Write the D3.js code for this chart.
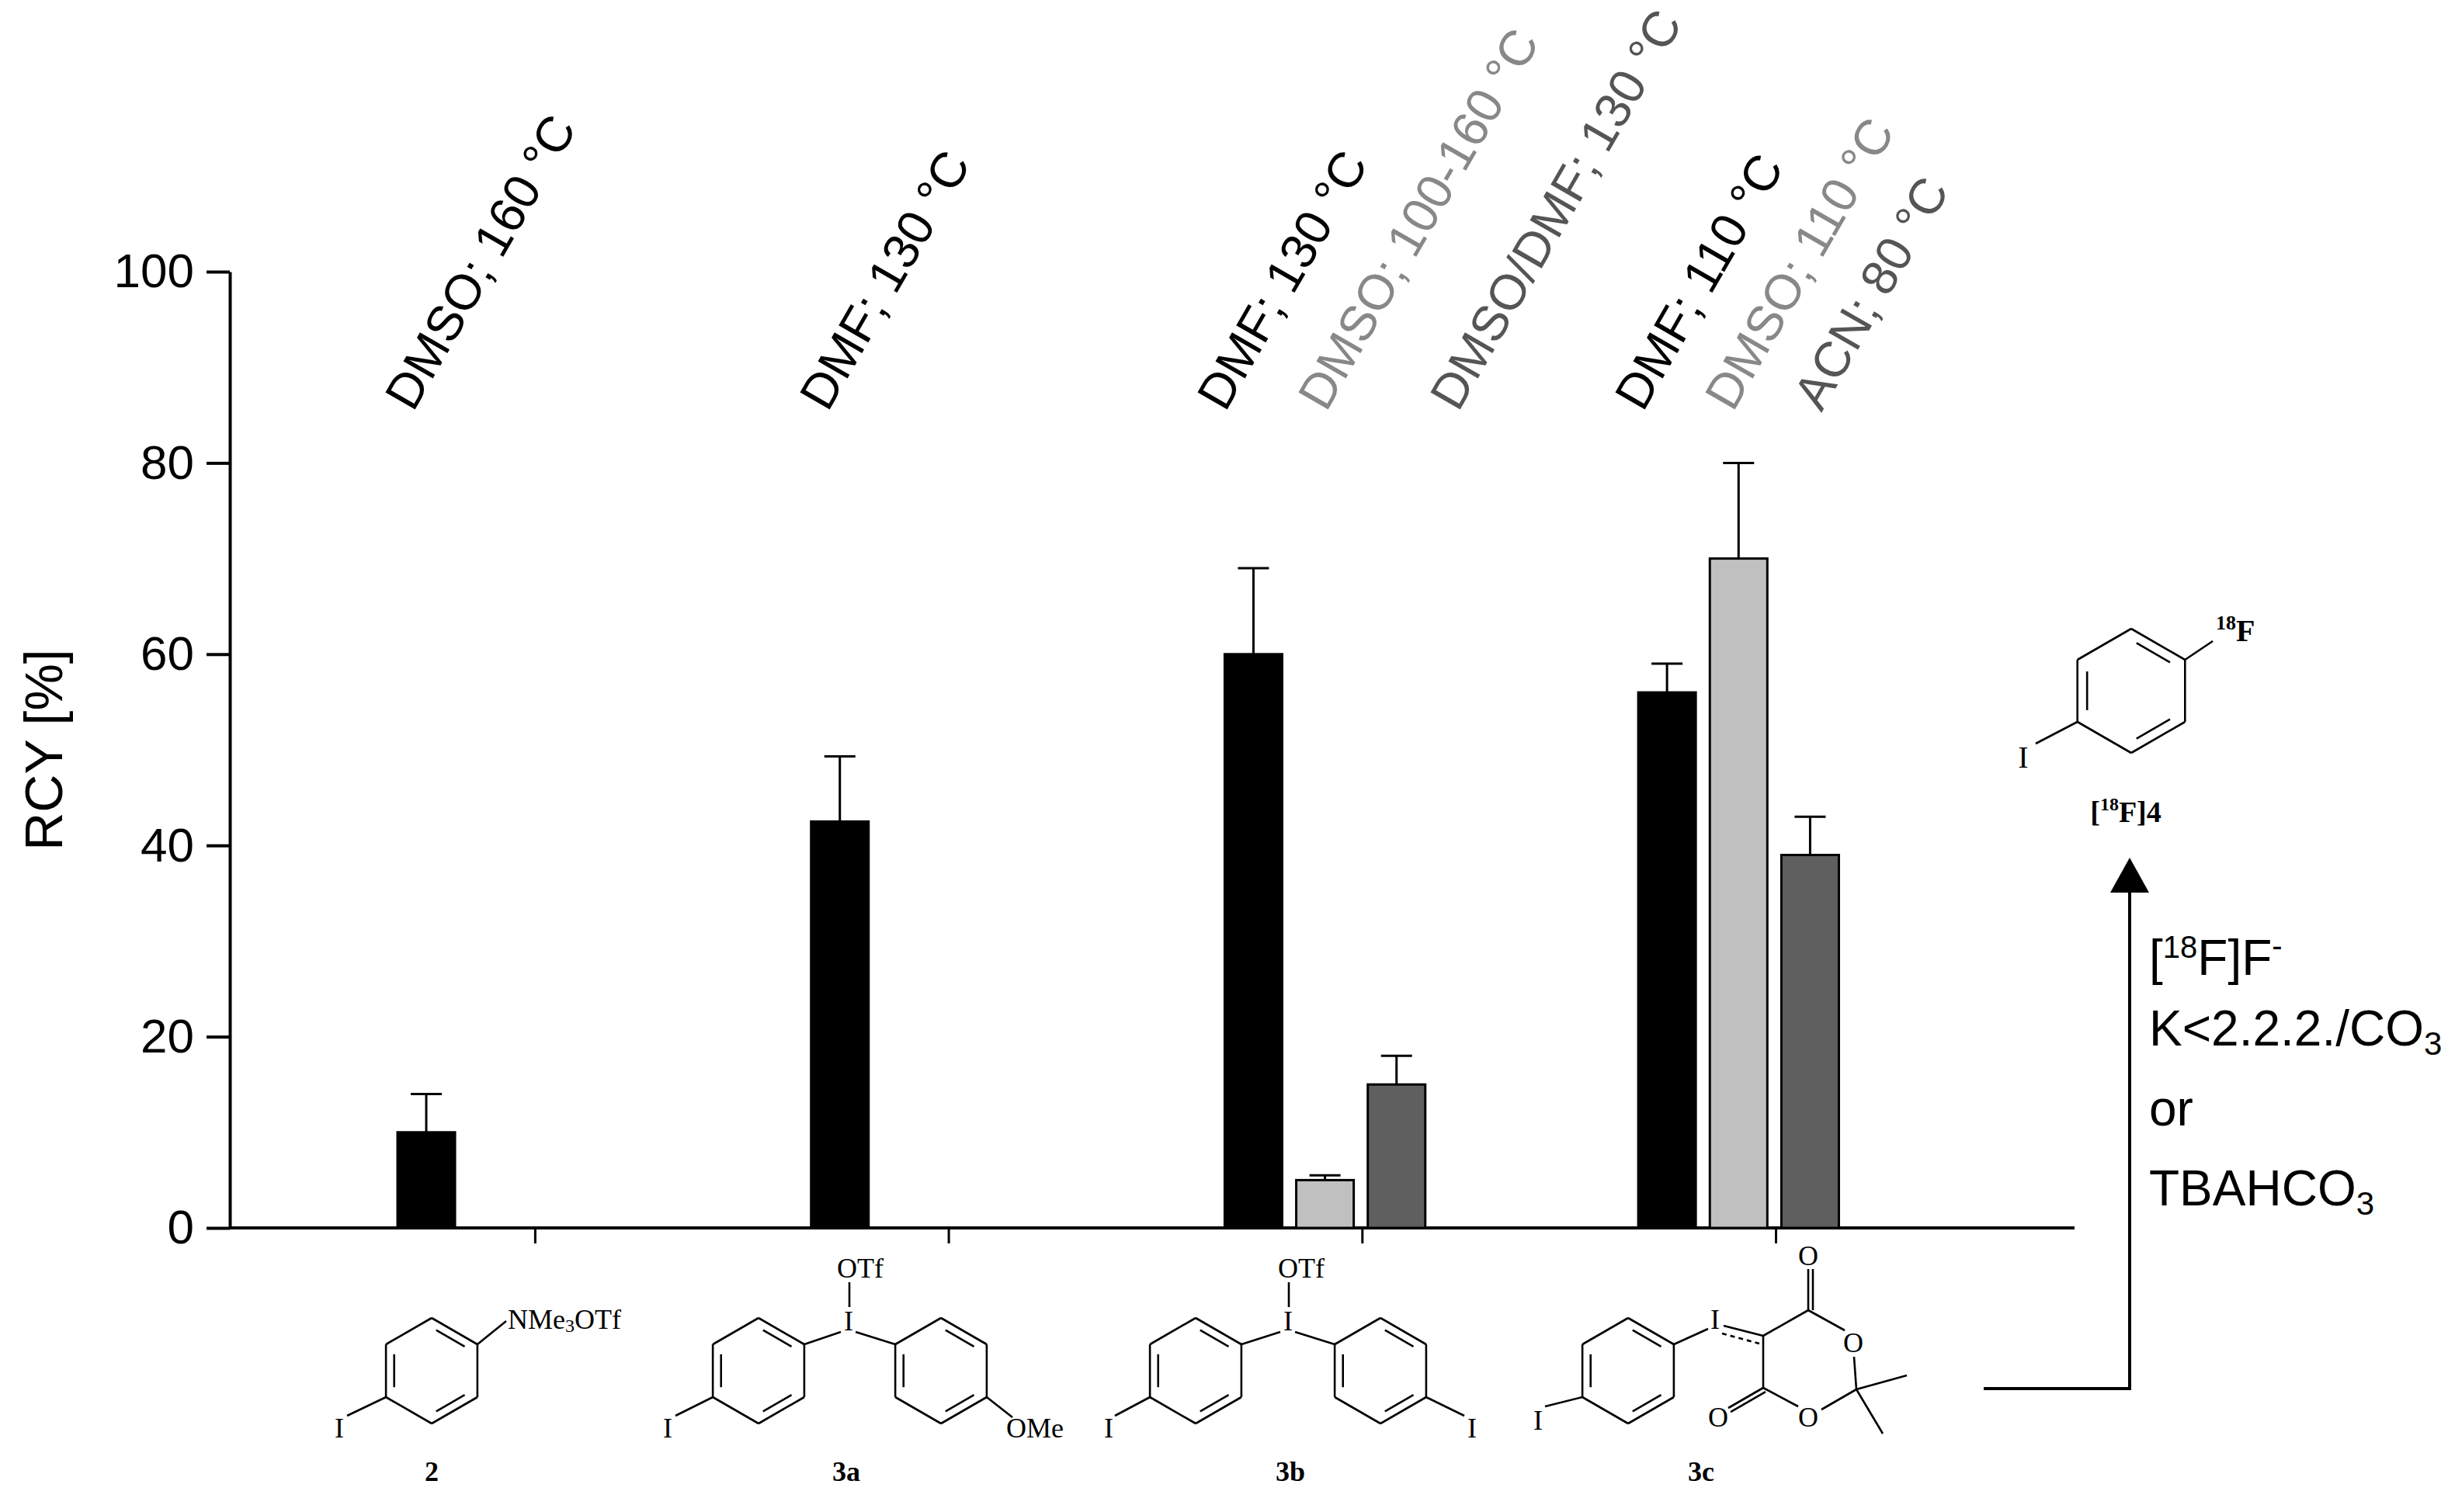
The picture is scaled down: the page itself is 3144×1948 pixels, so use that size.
<!DOCTYPE html>
<html><head><meta charset="utf-8">
<script src="https://cdn.jsdelivr.net/npm/d3@7"></script>
<style>body{margin:0;background:#fff}svg{display:block}</style>
</head><body>
<script>
const groups = ["2","3a","3b","3c"];
const barGroup = [0,1,2,2,2,3,3,3];
const barSlot  = [0,0,0,1,2,0,1,2];
const barValue = [10,42.5,60,5,15,56,70,39];
const barErr   = [4,6.8,9,0.5,3,3,10,4];
const slotColors = ["#000000","#c0c0c0","#5f5f5f"];
const yTicks = [0,20,40,60,80,100];
const condLabels = ["DMSO; 160 °C","DMF; 130 °C","DMF; 130 °C","DMSO; 100-160 °C","DMSO/DMF; 130 °C","DMF; 110 °C","DMSO; 110 °C","ACN; 80 °C"];
const condColors = ["#000","#000","#000","#888","#555","#000","#888","#555"];
const condX = [532,1066,1578,1708,1878,2116,2232,2346];

const W=3144,H=1948;
const svg=d3.select("body").append("svg").attr("width",W).attr("height",H);
const y=d3.scaleLinear().domain([0,100]).range([1582,350]);
const x=d3.scaleLinear().domain([0,4]).range([512,512+4*532.7]);
const slotW=0.173, barW=0.139;
const sans="'Liberation Sans', Arial, sans-serif", serif="'Liberation Serif','Times New Roman',serif";

// y axis
const ya=svg.append("g").attr("transform","translate(296,0)")
  .call(d3.axisLeft(y).tickValues(yTicks).tickSize(30).tickSizeOuter(0).tickPadding(16));
ya.selectAll("path,line").attr("stroke","#000").attr("stroke-width",4);
ya.selectAll("text").attr("font-family",sans).attr("font-size",62).attr("fill","#000");
svg.append("text").attr("transform","translate(80,966) rotate(-90)").attr("text-anchor","middle")
  .attr("font-family",sans).attr("font-size",68).text("RCY [%]");
// x axis
svg.append("line").attr("x1",296).attr("x2",2672).attr("y1",y(0)).attr("y2",y(0)).attr("stroke","#000").attr("stroke-width",4);
svg.selectAll(".xt").data(groups).enter().append("line")
  .attr("x1",(d,i)=>x(i+0.333)).attr("x2",(d,i)=>x(i+0.333)).attr("y1",y(0)).attr("y2",y(0)+20)
  .attr("stroke","#000").attr("stroke-width",3);

// bars
const bars=barValue.map((v,i)=>({v,e:barErr[i],g:barGroup[i],s:barSlot[i]}));
const bx=d=>x(d.g+d.s*slotW);
const bw=x(barW)-x(0);
svg.selectAll(".eb").data(bars).enter().append("path")
  .attr("d",d=>{const cx=bx(d)+bw/2;return `M${cx},${y(d.v)}V${y(d.v+d.e)}M${cx-20},${y(d.v+d.e)}H${cx+20}`;})
  .attr("stroke","#000").attr("stroke-width",3).attr("fill","none");
svg.selectAll(".bar").data(bars).enter().append("rect")
  .attr("x",bx).attr("width",bw).attr("y",d=>y(d.v)).attr("height",d=>y(0)-y(d.v))
  .attr("fill",d=>slotColors[d.s]).attr("stroke","#000").attr("stroke-width",3);

// condition labels
svg.selectAll(".cl").data(condLabels).enter().append("text")
  .attr("transform",(d,i)=>`translate(${condX[i]},532) rotate(-60)`)
  .attr("font-family",sans).attr("font-size",64).attr("fill",(d,i)=>condColors[i]).text(d=>d);

// chemistry helpers
const chem=svg.append("g").attr("stroke","#000").attr("stroke-width",2.6).attr("fill","none");
function line(x1,y1,x2,y2,dash){const l=chem.append("line").attr("x1",x1).attr("y1",y1).attr("x2",x2).attr("y2",y2);if(dash)l.attr("stroke-dasharray","6,5");return l;}
function ring(cx,cy,r){
  const v=d3.range(6).map(k=>{const a=(-90+60*k)*Math.PI/180;return [cx+r*Math.cos(a),cy+r*Math.sin(a)];});
  for(let k=0;k<6;k++){const a=v[k],b=v[(k+1)%6];line(a[0],a[1],b[0],b[1]);}
  [[0,1],[2,3],[4,5]].forEach(([i,j])=>{
    const p=v[i].map((c,t)=>[cx,cy][t]+(c-[cx,cy][t])*0.82), q=v[j].map((c,t)=>[cx,cy][t]+(c-[cx,cy][t])*0.82);
    const dx=q[0]-p[0],dy=q[1]-p[1];
    line(p[0]+dx*0.12,p[1]+dy*0.12,q[0]-dx*0.12,q[1]-dy*0.12);});
  return v;
}
function atom(t,xx,yy,opt={}){
  return svg.append("text").attr("x",xx).attr("y",yy).attr("text-anchor",opt.anchor||"middle")
    .attr("dominant-baseline","central").attr("font-family",serif).attr("font-size",opt.size||36)
    .attr("font-weight",opt.bold?"bold":"normal").text(t);
}
function dbl(x1,y1,x2,y2,off){const dx=x2-x1,dy=y2-y1,L=Math.hypot(dx,dy),nx=-dy/L*off,ny=dx/L*off;
  line(x1,y1,x2,y2);line(x1+nx,y1+ny,x2+nx,y2+ny);}

// 2
let v=ring(556,1766,68);
line(v[4][0],v[4][1],447,1824); atom("I",437,1840);
line(v[1][0],v[1][1],652,1702);
const t2=atom("",654,1700,{anchor:"start"});
t2.append("tspan").text("NMe"); t2.append("tspan").attr("font-size",24).attr("dy",8).text("3");
t2.append("tspan").attr("dy",-8).text("OTf");
atom("2",556,1896,{bold:true});
// 3a
v=ring(977,1766,68); let w=ring(1212,1766,68);
line(v[1][0],v[1][1],1083,1716); line(1102,1716,w[5][0],w[5][1]);
atom("I",1093,1702); line(1094,1684,1094,1652); atom("OTf",1108,1634);
line(v[4][0],v[4][1],870,1824); atom("I",860,1840);
line(w[2][0],w[2][1],1304,1826); atom("OMe",1296,1840,{anchor:"start"});
atom("3a",1090,1896,{bold:true});
// 3b
v=ring(1540,1766,68); w=ring(1778,1766,68);
line(v[1][0],v[1][1],1649,1716); line(1668,1716,w[5][0],w[5][1]);
atom("I",1659,1702); line(1660,1684,1660,1652); atom("OTf",1676,1634);
line(v[4][0],v[4][1],1436,1824); atom("I",1428,1840);
line(w[2][0],w[2][1],1886,1824); atom("I",1896,1840);
atom("3b",1662,1896,{bold:true});
// 3c
v=ring(2097,1766,68);
line(v[1][0],v[1][1],2200,1712); atom("I",2209,1700);
line(v[4][0],v[4][1],1990,1812); atom("I",1981,1830);
line(2220,1708,2271,1721); line(2218,1718,2266,1731,true);
line(2271,1721,2329,1688); dbl(2329,1688,2329,1635,6); atom("O",2329,1618);
line(2329,1688,2376,1714); atom("O",2387,1730);
line(2388,1748,2391,1790); line(2391,1790,2456,1772); line(2391,1790,2425,1847);
line(2391,1790,2346,1816); atom("O",2329,1826);
line(2316,1812,2271,1788); line(2271,1788,2271,1721);
dbl(2271,1788,2226,1814,-6); atom("O",2213,1826);
atom("3c",2191,1896,{bold:true});

// product
v=ring(2745,890,80);
line(v[1][0],v[1][1],2850,826);
const tf=atom("",2854,812,{anchor:"start",bold:true,size:40});
tf.append("tspan").attr("font-size",26).attr("dy",-10).text("18"); tf.append("tspan").attr("dy",10).text("F");
line(v[4][0],v[4][1],2622,958); atom("I",2606,975,{size:40});
const tp=atom("",2738,1046,{bold:true,size:38}); tp.append("tspan").text("[");
tp.append("tspan").attr("font-size",24).attr("dy",-10).text("18"); tp.append("tspan").attr("dy",10).text("F]4");

// arrow
svg.append("path").attr("d","M2555,1789H2743V1145").attr("stroke","#000").attr("stroke-width",4).attr("fill","none");
svg.append("path").attr("d","M2743,1105L2718,1150H2768Z").attr("fill","#000");
const rt=svg.append("g").attr("font-family",sans).attr("font-size",64);
let tt=rt.append("text").attr("x",2768).attr("y",1256);
tt.append("tspan").text("["); tt.append("tspan").attr("font-size",40).attr("dy",-22).text("18");
tt.append("tspan").attr("dy",22).text("F]F"); tt.append("tspan").attr("font-size",40).attr("dy",-24).text("-");
tt=rt.append("text").attr("x",2768).attr("y",1347); tt.append("tspan").text("K<2.2.2./CO");
tt.append("tspan").attr("font-size",42).attr("dy",12).text("3");
rt.append("text").attr("x",2768).attr("y",1450).text("or");
tt=rt.append("text").attr("x",2768).attr("y",1553); tt.append("tspan").text("TBAHCO");
tt.append("tspan").attr("font-size",42).attr("dy",12).text("3");
</script>
</body></html>
